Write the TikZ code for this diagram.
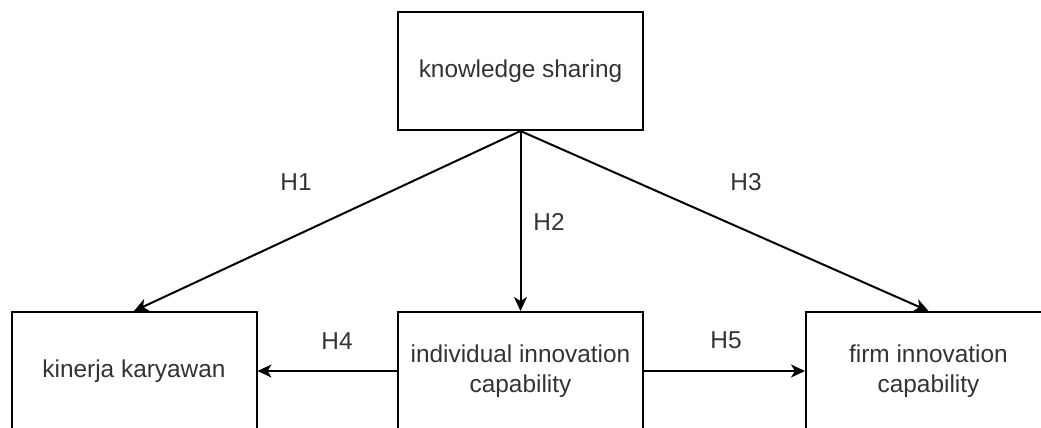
\documentclass[tikz,border=0pt]{standalone}
\usepackage{fontspec}
\setmainfont{Liberation Sans}
\usetikzlibrary{arrows.meta}
\begin{document}
\begin{tikzpicture}[x=0.5pt,y=-0.5pt,
  varbox/.style={draw=black, line width=1pt, fill=white, minimum width=122.5pt,
    minimum height=59pt, inner sep=0pt, align=center, text=black!80,
    font=\fontsize{12.2}{15}\selectfont},
  hyp/.style={text=black!80, font=\fontsize{12.2}{14}\selectfont, inner sep=0pt},
  link/.style={line width=1pt, -{Stealth[length=7pt,width=6.5pt,inset=2pt]}}]
  \useasboundingbox (0,0) rectangle (1041,428);
  \clip (0,0) rectangle (1041,428);
  % constructs
  \node[varbox] (ks)  at (520.5,71)  {knowledge sharing};
  \node[varbox] (kk)  at (134,371)   {kinerja karyawan};
  \node[varbox] (iic) at (520.5,371) {individual innovation\\capability};
  \node[varbox] (fic) at (928.5,371) {firm innovation\\capability};
  % hypothesised paths
  \draw[link] (ks.south) -- (kk.north);
  \draw[link] (ks.south) -- (iic.north);
  \draw[link] (ks.south) -- (fic.north);
  \draw[link] (iic.west) -- (kk.east);
  \draw[link] (iic.east) -- (fic.west);
  % path labels
  \node[hyp] (h1) at (296,182) {H1};
  \node[hyp] (h2) at (549,222) {H2};
  \node[hyp] (h3) at (746,182) {H3};
  \node[hyp] (h4) at (337,341) {H4};
  \node[hyp] (h5) at (726,340) {H5};
\end{tikzpicture}
\end{document}
